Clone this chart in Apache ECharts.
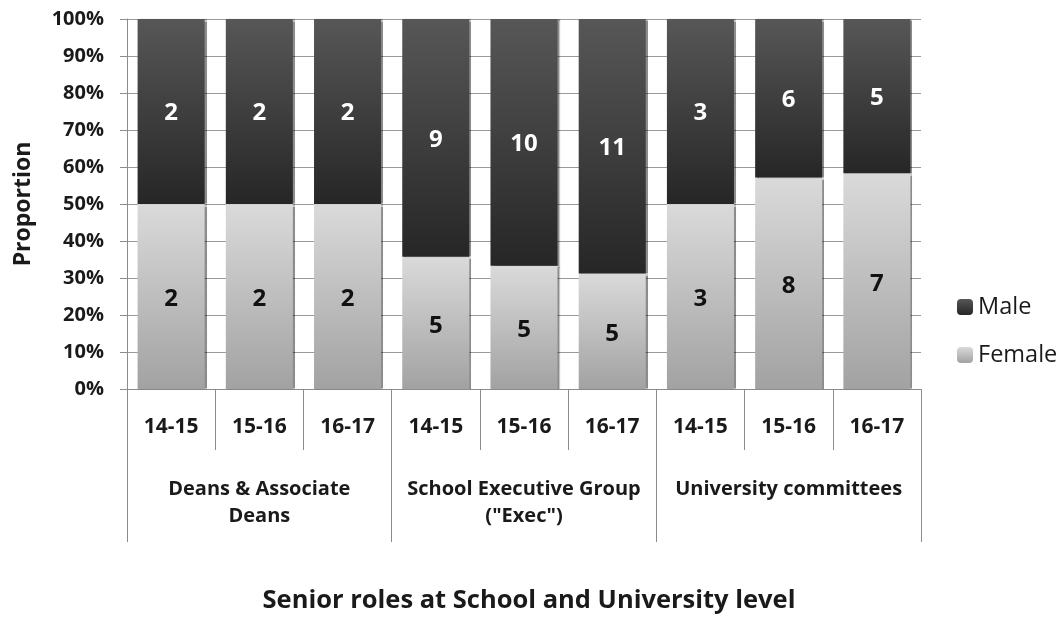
<!DOCTYPE html>
<html>
<head>
<meta charset="utf-8">
<script src="https://cdn.jsdelivr.net/npm/echarts@6/dist/echarts.min.js"></script>
<style>html,body{margin:0;padding:0;background:#fff}#c{width:1063px;height:621px}</style>
</head>
<body>
<div id="c"></div>
<script>
const categories = ['14-15','15-16','16-17','14-15','15-16','16-17','14-15','15-16','16-17'];
const groups = ['Deans & Associate\nDeans', 'School Executive Group\n("Exec")', 'University committees'];
const femaleCounts = [2, 2, 2, 5, 5, 5, 3, 8, 7];
const maleCounts = [2, 2, 2, 9, 10, 11, 3, 6, 5];
const yTicks = [0, 10, 20, 30, 40, 50, 60, 70, 80, 90, 100];

const femalePct = femaleCounts.map((f, i) => f / (f + maleCounts[i]) * 100);
const malePct = maleCounts.map((m, i) => m / (femaleCounts[i] + m) * 100);

const FONT = '"Open Sans", "Liberation Sans", sans-serif';
const axisColor = '#8c8c8c';

const chart = echarts.init(document.getElementById('c'));
const maleGrad = new echarts.graphic.LinearGradient(0, 0, 0, 1, [
  {offset: 0, color: '#575757'}, {offset: 1, color: '#262626'}]);
const femaleGrad = new echarts.graphic.LinearGradient(0, 0, 0, 1, [
  {offset: 0, color: '#dadada'}, {offset: 1, color: '#a2a2a2'}]);

chart.setOption({
  animation: false,
  backgroundColor: '#ffffff',
  textStyle: {fontFamily: FONT},
  title: {
    text: 'Senior roles at School and University level',
    left: 524, top: 583, textAlign: 'center',
    textStyle: {fontFamily: FONT, fontSize: 25.5, fontWeight: 'bold', color: '#1a1a1a'}
  },
  legend: {
    data: ['Male', 'Female'],
    orient: 'vertical',
    left: 952, top: 290,
    itemWidth: 16, itemHeight: 16, itemGap: 24,
    textStyle: {fontFamily: FONT, fontSize: 23.5, color: '#1a1a1a'}
  },
  grid: {left: 127, right: 142, top: 19, bottom: 232, containLabel: false},
  xAxis: [{
    type: 'category', data: categories, position: 'bottom',
    axisLine: {show: true, lineStyle: {color: axisColor, width: 1}},
    axisTick: {show: true, interval: 0, length: 61, lineStyle: {color: axisColor}},
    axisLabel: {interval: 0, margin: 28, fontFamily: FONT, fontSize: 21, fontWeight: 'bold', color: '#1a1a1a'},
    splitLine: {show: false}
  }, {
    type: 'category', data: groups, position: 'bottom', offset: 61,
    axisLine: {show: false},
    axisTick: {show: true, interval: 0, length: 92, lineStyle: {color: axisColor}},
    axisLabel: {interval: 0, margin: 26, lineHeight: 27, fontFamily: FONT, fontSize: 20, fontWeight: 'bold', color: '#1a1a1a'},
    splitLine: {show: false}
  }],
  yAxis: {
    type: 'value', min: yTicks[0], max: yTicks[yTicks.length - 1], interval: 10,
    name: 'Proportion', nameLocation: 'middle', nameGap: 92, nameRotate: 90, nameMoveOverlap: false,
    nameTextStyle: {fontFamily: FONT, fontSize: 23, fontWeight: 'bold', color: '#1a1a1a'},
    axisLine: {show: true, lineStyle: {color: axisColor}},
    axisTick: {show: true, length: 7, lineStyle: {color: axisColor}},
    axisLabel: {formatter: '{value}%', margin: 23, fontFamily: FONT, fontSize: 20, fontWeight: 'bold', color: '#1a1a1a'},
    splitLine: {show: true, lineStyle: {color: '#9a9a9a', width: 1}}
  },
  series: [{
    name: 'Female', type: 'bar', stack: 'total', barCategoryGap: '24%',
    data: femalePct,
    itemStyle: {color: femaleGrad, shadowColor: 'rgba(0,0,0,0.45)', shadowOffsetX: 2, shadowBlur: 1},
    label: {show: true, position: 'inside', offset: [0, 3], formatter: p => femaleCounts[p.dataIndex],
      fontFamily: FONT, fontSize: 24, fontWeight: 'bold', color: '#111'}
  }, {
    name: 'Male', type: 'bar', stack: 'total', barCategoryGap: '24%',
    data: malePct,
    itemStyle: {color: maleGrad, shadowColor: 'rgba(0,0,0,0.45)', shadowOffsetX: 2, shadowBlur: 1},
    label: {show: true, position: 'inside', offset: [0, 2], formatter: p => maleCounts[p.dataIndex],
      fontFamily: FONT, fontSize: 24, fontWeight: 'bold', color: '#ffffff'}
  }]
});
</script>
</body>
</html>
